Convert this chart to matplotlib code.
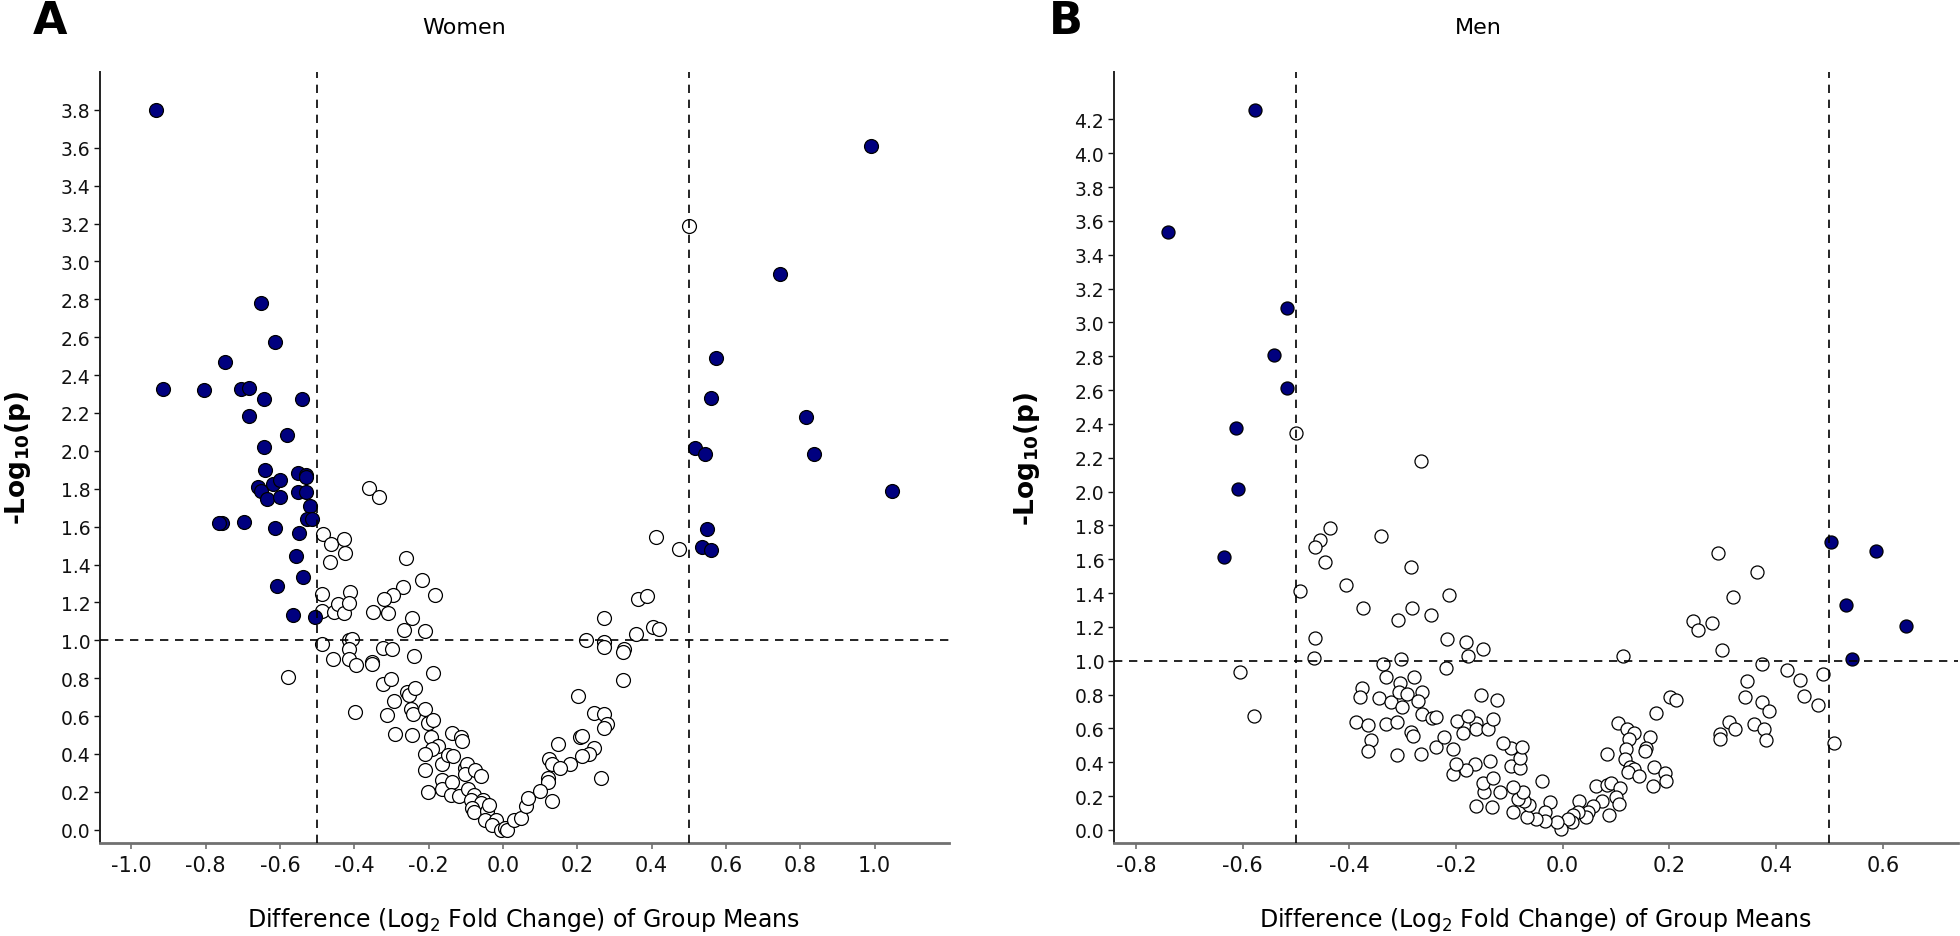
import matplotlib
matplotlib.use("Agg")
import matplotlib.pyplot as plt
import numpy as np

plt.rcParams['font.family'] = ['DejaVu Sans']
plt.rcParams['mathtext.default'] = 'regular'

# ---------------- Panel A: Women ----------------
women_sig_x = [-0.934, -0.652, -0.914, -0.803, -0.747, -0.706, -0.684, -0.642, -0.541, -0.612,
               -0.684, -0.581, -0.644, -0.639, -0.551, -0.531, -0.531, -0.658, -0.652, -0.618,
               -0.600, -0.634, -0.600, -0.551, -0.529, -0.520, -0.527, -0.515, -0.757, -0.765,
               -0.697, -0.612, -0.549, -0.558, -0.538, -0.609, -0.564, -0.506,
               0.989, 0.745, 0.572, 0.560, 0.815, 0.516, 0.544, 0.836, 1.047, 0.548, 0.536, 0.560]
women_sig_y = [3.80, 2.78, 2.329, 2.323, 2.468, 2.325, 2.334, 2.276, 2.276, 2.575,
               2.182, 2.082, 2.022, 1.900, 1.881, 1.874, 1.860, 1.807, 1.789, 1.825,
               1.846, 1.745, 1.759, 1.784, 1.784, 1.707, 1.640, 1.640, 1.620, 1.620,
               1.626, 1.594, 1.566, 1.446, 1.335, 1.287, 1.132, 1.125,
               3.61, 2.933, 2.49, 2.277, 2.18, 2.017, 1.982, 1.982, 1.788, 1.587, 1.492, 1.475]

women_ns_x = [0.500,
              -0.360, -0.333, -0.484, -0.462, -0.428, -0.425, -0.464, -0.262, -0.218, -0.184,
              -0.268, -0.296, -0.321, -0.244, -0.350, -0.309, -0.486, -0.488, -0.455, -0.444,
              -0.428, -0.412, -0.415,
              -0.579, -0.487, -0.457, -0.415, -0.406, -0.415, -0.415, -0.396, -0.399, -0.351,
              -0.351, -0.322, -0.298, -0.240, -0.266, -0.209, -0.188, -0.324, -0.300, -0.257,
              -0.252, -0.236, -0.293, -0.313, -0.247, -0.242, -0.290, -0.245, -0.209, -0.202,
              -0.189, -0.194, -0.175, -0.192, -0.209, -0.209, -0.202, -0.165, -0.149, -0.135,
              -0.138, -0.113, -0.111, -0.165, -0.165, -0.137, -0.139, -0.118, -0.101, -0.096,
              -0.103, -0.074, -0.058, -0.094, -0.077, -0.087, -0.053, -0.058, -0.082, -0.077,
              -0.043, -0.038, -0.048, -0.019, -0.029, -0.005, 0.005, 0.010, 0.029, 0.048,
              0.061, 0.067,
              0.411, 0.473, 0.362, 0.387, 0.272, 0.404, 0.420, 0.357, 0.224, 0.273,
              0.272, 0.325, 0.322, 0.323, 0.203, 0.245, 0.272, 0.280, 0.273, 0.207,
              0.212, 0.148, 0.245, 0.232, 0.212, 0.181, 0.124, 0.131, 0.153, 0.265,
              0.120, 0.120, 0.101, 0.132]
women_ns_y = [3.187,
              1.804, 1.759, 1.559, 1.507, 1.534, 1.460, 1.414, 1.433, 1.317, 1.241,
              1.280, 1.241, 1.220, 1.120, 1.152, 1.146, 1.247, 1.155, 1.150, 1.190,
              1.146, 1.257, 1.199,
              0.805, 0.982, 0.903, 1.000, 1.005, 0.956, 0.903, 0.867, 0.619, 0.888,
              0.876, 0.959, 0.952, 0.917, 1.057, 1.050, 0.828, 0.770, 0.796, 0.726,
              0.712, 0.747, 0.681, 0.605, 0.637, 0.611, 0.504, 0.499, 0.637, 0.566,
              0.581, 0.490, 0.442, 0.425, 0.398, 0.315, 0.198, 0.345, 0.393, 0.389,
              0.513, 0.487, 0.469, 0.265, 0.216, 0.251, 0.186, 0.177, 0.327, 0.345,
              0.292, 0.315, 0.283, 0.216, 0.186, 0.159, 0.159, 0.142, 0.115, 0.094,
              0.097, 0.129, 0.053, 0.053, 0.027, 0.000, 0.009, 0.000, 0.053, 0.062,
              0.124, 0.165,
              1.547, 1.481, 1.219, 1.233, 1.118, 1.072, 1.058, 1.032, 1.000, 0.990,
              0.965, 0.952, 0.940, 0.792, 0.705, 0.617, 0.609, 0.556, 0.538, 0.490,
              0.496, 0.450, 0.432, 0.400, 0.388, 0.349, 0.374, 0.346, 0.325, 0.275,
              0.273, 0.250, 0.203, 0.150]

# ---------------- Panel B: Men ----------------
men_sig_x = [-0.576, -0.739, -0.517, -0.542, -0.517, -0.613, -0.609, -0.635,
             0.503, 0.588, 0.532, 0.643, 0.543]
men_sig_y = [4.253, 3.537, 3.086, 2.808, 2.611, 2.376, 2.014, 1.613,
             1.704, 1.650, 1.331, 1.203, 1.010]

men_ns_x = [-0.500, -0.265, -0.436, -0.455, -0.464, -0.445, -0.341, -0.284, -0.492, -0.407,
            -0.375, -0.282, -0.308, -0.247, -0.214, -0.464, -0.216, -0.182, -0.150, 0.292,
            0.365, 0.320, 0.245, 0.254, 0.280, 0.299,
            -0.604, -0.578, -0.466, -0.336, -0.303, -0.218, -0.332, -0.305, -0.278, -0.377,
            -0.379, -0.344, -0.322, -0.306, -0.292, -0.263, -0.272, -0.302, -0.263, -0.245,
            -0.237, -0.387, -0.365, -0.332, -0.310, -0.360, -0.365, -0.310, -0.285, -0.281,
            -0.265, -0.237, -0.223, -0.206, -0.206,
            0.374, 0.420, 0.444, 0.488, 0.453, 0.479, 0.509, 0.346, 0.341, 0.374,
            0.387, 0.311, 0.323, 0.294, 0.294, 0.358, 0.378, 0.381, 0.114, 0.201,
            0.213, 0.175, 0.103, 0.121, 0.134, 0.124, 0.164, 0.156, 0.154, 0.119,
            0.117, 0.127, 0.134, 0.122, 0.144, 0.172, 0.191, 0.194, 0.169, 0.084,
            -0.038, 0.062, 0.084, 0.090, 0.107, 0.100, 0.105, 0.074, 0.086, 0.056,
            0.047, 0.044, 0.030, 0.028, 0.020, 0.017, 0.010, -0.004, -0.011, -0.024,
            -0.033, -0.033, -0.050, -0.066, -0.063, -0.073, -0.083, -0.093, -0.074, -0.093,
            -0.117, -0.133, -0.163, -0.147, -0.150, -0.131, -0.137, -0.165, -0.181, -0.200,
            -0.096, -0.080, -0.080, -0.096, -0.076, -0.111, -0.153, -0.123, -0.198, -0.187,
            -0.163, -0.163, -0.140, -0.131, -0.178, -0.177]
men_ns_y = [2.347, 2.183, 1.787, 1.714, 1.674, 1.586, 1.735, 1.552, 1.412, 1.450,
            1.310, 1.310, 1.242, 1.270, 1.390, 1.136, 1.128, 1.112, 1.069, 1.635,
            1.526, 1.375, 1.233, 1.182, 1.221, 1.063,
            0.935, 0.671, 1.014, 0.980, 1.010, 0.957, 0.902, 0.868, 0.902, 0.837,
            0.787, 0.778, 0.754, 0.813, 0.803, 0.813, 0.764, 0.724, 0.685, 0.659,
            0.665, 0.636, 0.620, 0.626, 0.640, 0.533, 0.469, 0.443, 0.577, 0.557,
            0.449, 0.488, 0.547, 0.478, 0.331,
            0.982, 0.947, 0.888, 0.924, 0.794, 0.741, 0.516, 0.878, 0.786, 0.755,
            0.706, 0.637, 0.598, 0.565, 0.535, 0.624, 0.594, 0.531, 1.029, 0.784,
            0.767, 0.692, 0.633, 0.598, 0.571, 0.535, 0.551, 0.486, 0.467, 0.476,
            0.422, 0.375, 0.363, 0.343, 0.320, 0.375, 0.339, 0.290, 0.257, 0.447,
            0.290, 0.257, 0.265, 0.280, 0.251, 0.192, 0.153, 0.173, 0.090, 0.143,
            0.104, 0.075, 0.173, 0.104, 0.088, 0.049, 0.065, 0.006, 0.045, 0.167,
            0.104, 0.055, 0.065, 0.075, 0.147, 0.173, 0.182, 0.104, 0.225, 0.255,
            0.222, 0.133, 0.143, 0.225, 0.280, 0.310, 0.408, 0.388, 0.355, 0.388,
            0.378, 0.369, 0.427, 0.486, 0.490, 0.512, 0.800, 0.771, 0.643, 0.575,
            0.633, 0.594, 0.594, 0.653, 0.673, 1.029]

women_xticks = [-1.0, -0.8, -0.6, -0.4, -0.2, 0.0, 0.2, 0.4, 0.6, 0.8, 1.0]
men_xticks = [-0.8, -0.6, -0.4, -0.2, 0.0, 0.2, 0.4, 0.6]
women_yticks = [round(0.2 * i, 1) for i in range(20)]   # 0.0 .. 3.8
men_yticks = [round(0.2 * i, 1) for i in range(22)]     # 0.0 .. 4.2

NAVY = '#00007f'

fig = plt.figure(figsize=(19.6, 9.37), dpi=100)
axA = fig.add_axes([100 / 1960, 93 / 937, 849 / 1960, 771 / 937])
axB = fig.add_axes([1114 / 1960, 93 / 937, 844 / 1960, 771 / 937])


def style(ax, xt, yt, xlim, ylim):
    for s in ['top', 'right']:
        ax.spines[s].set_visible(False)
    ax.spines['left'].set_color('#222222')
    ax.spines['left'].set_linewidth(1.4)
    ax.spines['bottom'].set_color('#707070')
    ax.spines['bottom'].set_linewidth(2.0)
    ax.set_xticks(xt)
    ax.set_xticklabels([f'{v:.1f}' for v in xt])
    ax.set_yticks(yt)
    ax.set_yticklabels([f'{v:.1f}' for v in yt])
    ax.set_xlim(*xlim)
    ax.set_ylim(*ylim)
    ax.tick_params(axis='y', direction='out', length=4, width=1, labelsize=13.5,
                   colors='#111111', pad=3)
    ax.tick_params(axis='x', direction='out', length=4, width=1.2, labelsize=15,
                   colors='#707070', labelcolor='#111111', pad=5)
    ax.axvline(-0.5, color='black', ls=(0, (5, 4)), lw=1.2, zorder=4)
    ax.axvline(0.5, color='black', ls=(0, (5, 4)), lw=1.2, zorder=4)
    ax.axhline(1.0, color='black', ls=(0, (5, 4)), lw=1.2, zorder=4)


style(axA, women_xticks, women_yticks, (-1.084, 1.2), (-0.07, 4.0))
style(axB, men_xticks, men_yticks, (-0.841, 0.741), (-0.077, 4.48))

axA.scatter(women_ns_x, women_ns_y, s=100, facecolor='white', edgecolor='black',
            linewidth=0.9, zorder=2)
axA.scatter(women_sig_x, women_sig_y, s=100, facecolor=NAVY, edgecolor='black',
            linewidth=0.9, zorder=3)
axB.scatter(men_ns_x, men_ns_y, s=88, facecolor='white', edgecolor='black',
            linewidth=0.9, zorder=2)
axB.scatter(men_sig_x, men_sig_y, s=88, facecolor=NAVY, edgecolor='black',
            linewidth=0.9, zorder=3)

# Panel letters and titles
fig.text(33 / 1960, 1.0, 'A', fontsize=32, fontweight='bold', va='top', ha='left')
fig.text(1049 / 1960, 1.0, 'B', fontsize=32, fontweight='bold', va='top', ha='left')
fig.text(464 / 1960, 1 - 28 / 937, 'Women', fontsize=16, va='center', ha='center')
fig.text(1478 / 1960, 1 - 28 / 937, 'Men', fontsize=16, va='center', ha='center')

# Axis labels
fig.text(524 / 1960, 1 - 920 / 937, 'Difference (Log$_2$ Fold Change) of Group Means',
         fontsize=17, ha='center', va='center')
fig.text(1536 / 1960, 1 - 920 / 937, 'Difference (Log$_2$ Fold Change) of Group Means',
         fontsize=17, ha='center', va='center')
fig.text(18 / 1960, 1 - 458 / 937, '-Log$_{10}$(p)', fontsize=19, fontweight='bold',
         rotation=90, ha='center', va='center')
fig.text(1027 / 1960, 1 - 459 / 937, '-Log$_{10}$(p)', fontsize=19, fontweight='bold',
         rotation=90, ha='center', va='center')

fig.savefig('out.png', dpi=100)
